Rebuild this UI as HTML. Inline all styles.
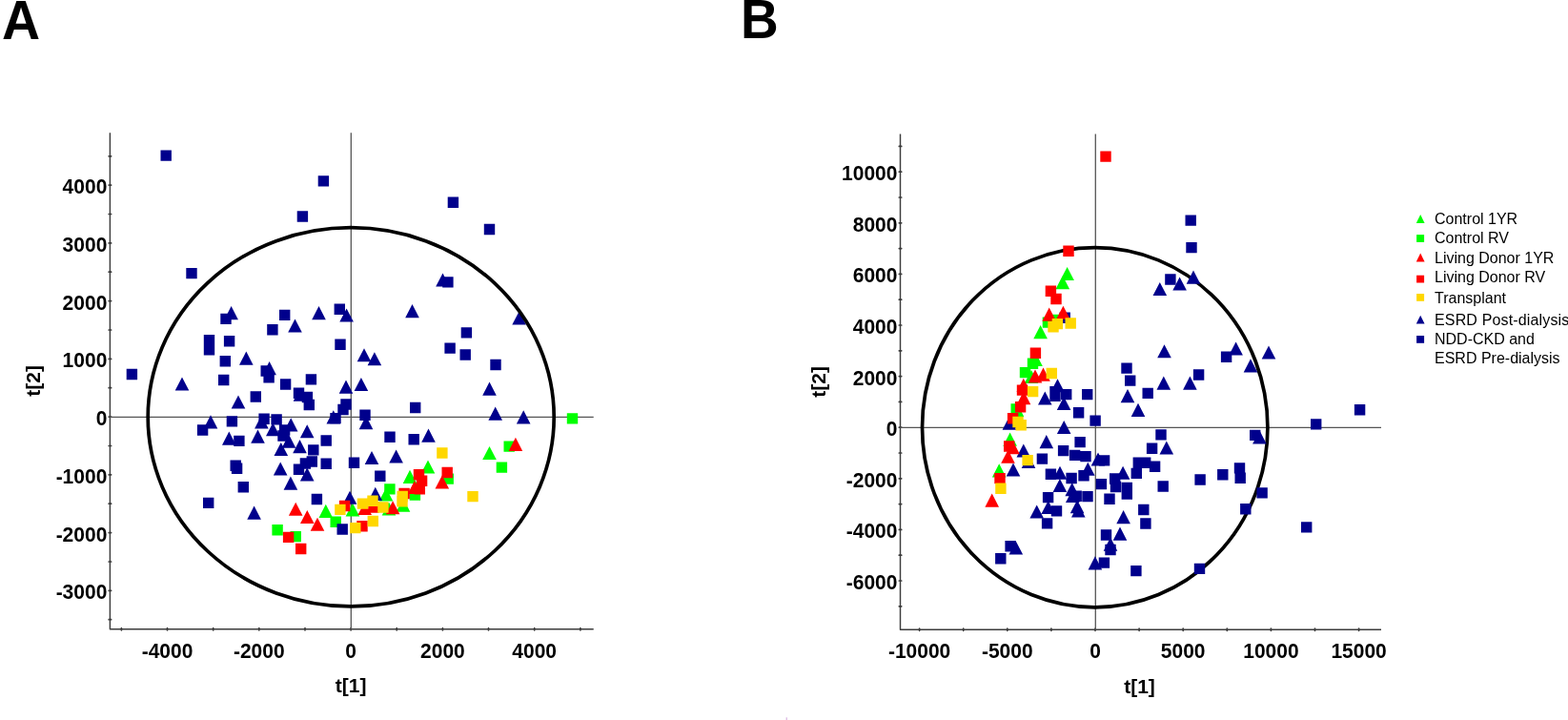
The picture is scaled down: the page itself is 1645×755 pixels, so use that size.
<!DOCTYPE html>
<html><head><meta charset="utf-8"><title>PCA score plots</title>
<style>
html,body{margin:0;padding:0;background:#fff;}
body{width:1645px;height:755px;overflow:hidden;}
svg{display:block;}
.pl{font-family:"Liberation Sans",Arial,sans-serif;font-weight:bold;font-size:55px;fill:#000;}
.tl{font-family:"Liberation Sans",Arial,sans-serif;font-weight:bold;font-size:21px;fill:#000;}
.al{font-family:"Liberation Sans",Arial,sans-serif;font-weight:bold;font-size:21px;fill:#000;}
.lg{font-family:"Liberation Sans",Arial,sans-serif;font-size:16px;fill:#000;}
</style></head><body>
<svg width="1645" height="755" viewBox="0 0 1645 755">
<rect width="1645" height="755" fill="#fff"/>
<text transform="translate(2.1 40.9) scale(1.01 1.045)" class="pl">A</text>
<text transform="translate(777 39.9) scale(1 1.045)" class="pl">B</text>
<path d="M115.4 139.3V659.7H622.7" fill="none" stroke="#3c3c3c" stroke-width="1.45" stroke-linejoin="round"/>
<path d="M114.2 649.7H116.6M114.2 619.3H116.6M114.2 589H116.6M114.2 558.6H116.6M114.2 528.2H116.6M114.2 497.8H116.6M114.2 467.5H116.6M114.2 437.1H116.6M114.2 406.7H116.6M114.2 376.4H116.6M114.2 346H116.6M114.2 315.6H116.6M114.2 285.2H116.6M114.2 254.9H116.6M114.2 224.5H116.6M114.2 194.1H116.6M114.2 163.8H116.6M127.4 658.6V660.8M175.5 658.6V660.8M223.7 658.6V660.8M271.8 658.6V660.8M320 658.6V660.8M368.1 658.6V660.8M416.2 658.6V660.8M464.4 658.6V660.8M512.5 658.6V660.8M560.7 658.6V660.8M608.9 658.6V660.8" fill="none" stroke="#3c3c3c" stroke-width="1.7" stroke-linecap="round"/>
<path d="M115.4 437.4H622.7M368.3 139.3V659.7" fill="none" stroke="#555" stroke-width="1.3"/>
<path fill="#00ff00" d="M334.5 542.9L341.8 528.8L349.1 542.9zM362.6 541.5L369.9 527.4L377.2 541.5zM441.7 496.5L449 482.4L456.3 496.5zM422.7 506.9L430 492.8L437.3 506.9zM506.2 482L513.5 467.9L520.8 482zM400.7 540.6L408 526.5L415.3 540.6zM415.7 536.7L423 522.6L430.3 536.7zM397.7 525.6L405 511.5L412.3 525.6z"/>
<path fill="#00ff00" d="M285.4 550.1h11.4v11.4h-11.4zM304.5 556.9h11.4v11.4h-11.4zM346.5 541.5h11.4v11.4h-11.4zM403.2 507.2h11.4v11.4h-11.4zM429.7 513.4h11.4v11.4h-11.4zM464.5 496.4h11.4v11.4h-11.4zM594.8 433.2h11.4v11.4h-11.4zM528.5 462.4h11.4v11.4h-11.4zM520.7 484.4h11.4v11.4h-11.4z"/>
<path fill="#00008c" d="M235.3 335.2L242.6 321.1L249.9 335.2zM302.2 348.5L309.5 334.4L316.8 348.5zM251 382.7L258.3 368.6L265.6 382.7zM275.3 393.2L282.6 379.1L289.9 393.2zM183.7 409.5L191 395.4L198.3 409.5zM242.7 428.6L250 414.5L257.3 428.6zM457.2 300.5L464.5 286.4L471.8 300.5zM327.2 335.2L334.5 321.1L341.8 335.2zM356.3 337.6L363.6 323.5L370.9 337.6zM425.2 333.2L432.5 319.1L439.8 333.2zM374.7 379.3L382 365.2L389.3 379.3zM385.6 383.3L392.9 369.2L400.2 383.3zM355.7 412.7L363 398.6L370.3 412.7zM371.6 410.1L378.9 396L386.2 410.1zM307.7 420.8L315 406.7L322.3 420.8zM537.3 340.6L544.6 326.5L551.9 340.6zM506.2 414.7L513.5 400.6L520.8 414.7zM512.4 440.7L519.7 426.6L527 440.7zM541.9 444.4L549.2 430.3L556.5 444.4zM213.7 449.4L221 435.3L228.3 449.4zM233 466.7L240.3 452.6L247.6 466.7zM263.2 464.7L270.5 450.6L277.8 464.7zM267.1 449.4L274.4 435.3L281.7 449.4zM279 457.3L286.3 443.2L293.6 457.3zM297.9 452.4L305.2 438.3L312.5 452.4zM295.7 469.7L303 455.6L310.3 469.7zM287.5 478L294.8 463.9L302.1 478zM307.2 475.2L314.5 461.1L321.8 475.2zM286.9 498.5L294.2 484.4L301.5 498.5zM297.6 513.7L304.9 499.6L312.2 513.7zM259.3 544.7L266.6 530.6L273.9 544.7zM342.5 444.4L349.8 430.3L357.1 444.4zM376.7 450.2L384 436.1L391.3 450.2zM314.9 459.3L322.2 445.2L329.5 459.3zM442.2 463.7L449.5 449.6L456.8 463.7zM382.7 487.1L390 473L397.3 487.1zM408.3 485.5L415.6 471.4L422.9 485.5zM314.9 504.4L322.2 490.3L329.5 504.4zM359.7 528.8L367 514.7L374.3 528.8zM386.5 524.9L393.8 510.8L401.1 524.9z"/>
<path fill="#00008c" d="M168.5 157.4h11.4v11.4h-11.4zM333.7 184.2h11.4v11.4h-11.4zM469.7 206.5h11.4v11.4h-11.4zM311.7 221.3h11.4v11.4h-11.4zM507.8 234.8h11.4v11.4h-11.4zM195.3 280.9h11.4v11.4h-11.4zM231.3 328.7h11.4v11.4h-11.4zM293 324.7h11.4v11.4h-11.4zM280.2 340h11.4v11.4h-11.4zM213.8 351.1h11.4v11.4h-11.4zM213.8 361h11.4v11.4h-11.4zM234.9 352h11.4v11.4h-11.4zM230.6 373h11.4v11.4h-11.4zM273.5 383.3h11.4v11.4h-11.4zM276.4 390.2h11.4v11.4h-11.4zM229 392.8h11.4v11.4h-11.4zM293.9 397.3h11.4v11.4h-11.4zM307.8 406.6h11.4v11.4h-11.4zM316.7 410.8h11.4v11.4h-11.4zM318.6 418.8h11.4v11.4h-11.4zM262.6 410.3h11.4v11.4h-11.4zM132.7 386.8h11.4v11.4h-11.4zM350.6 318.5h11.4v11.4h-11.4zM464.2 290.2h11.4v11.4h-11.4zM483.7 343.2h11.4v11.4h-11.4zM466.4 359.4h11.4v11.4h-11.4zM482.5 366.3h11.4v11.4h-11.4zM351.3 355.5h11.4v11.4h-11.4zM320.7 392.2h11.4v11.4h-11.4zM357.3 418.3h11.4v11.4h-11.4zM354.3 423.8h11.4v11.4h-11.4zM430 421.8h11.4v11.4h-11.4zM377.3 429.5h11.4v11.4h-11.4zM514.3 376.8h11.4v11.4h-11.4zM206.9 445.3h11.4v11.4h-11.4zM237.7 436.2h11.4v11.4h-11.4zM245.2 456.7h11.4v11.4h-11.4zM271.4 433.5h11.4v11.4h-11.4zM284.4 434.2h11.4v11.4h-11.4zM292.9 445.3h11.4v11.4h-11.4zM291.3 451.3h11.4v11.4h-11.4zM241.5 482.6h11.4v11.4h-11.4zM242.9 485.5h11.4v11.4h-11.4zM307.8 486.5h11.4v11.4h-11.4zM249.6 505h11.4v11.4h-11.4zM213 521.7h11.4v11.4h-11.4zM336.5 456.3h11.4v11.4h-11.4zM403.3 452.6h11.4v11.4h-11.4zM428.5 455.1h11.4v11.4h-11.4zM323.1 466.2h11.4v11.4h-11.4zM321.6 478.3h11.4v11.4h-11.4zM314.7 480.3h11.4v11.4h-11.4zM336.5 480.6h11.4v11.4h-11.4zM365.8 479.6h11.4v11.4h-11.4zM393.1 493.6h11.4v11.4h-11.4zM326.7 517.8h11.4v11.4h-11.4zM353.5 549.3h11.4v11.4h-11.4zM346.3 432.9h11.4v11.4h-11.4z"/>
<path fill="#ff0000" d="M302.9 540.8L310.2 526.7L317.5 540.8zM315 549L322.3 534.9L329.6 549zM325.7 556.8L333 542.7L340.3 556.8zM375.4 540L382.7 525.9L390 540zM404.8 539.3L412.1 525.2L419.4 539.3zM456.5 512.6L463.8 498.5L471.1 512.6zM533.6 472.9L540.9 458.8L548.2 472.9zM427.7 518L435 503.9L442.3 518z"/>
<path fill="#ff0000" d="M296.9 557.7h11.4v11.4h-11.4zM310 569.8h11.4v11.4h-11.4zM355.9 524.8h11.4v11.4h-11.4zM374.3 546.1h11.4v11.4h-11.4zM386.3 526.3h11.4v11.4h-11.4zM463.5 489.8h11.4v11.4h-11.4zM433.8 492h11.4v11.4h-11.4zM436.9 498.6h11.4v11.4h-11.4zM434.6 507.2h11.4v11.4h-11.4zM418.4 511.8h11.4v11.4h-11.4z"/>
<path fill="#ffd700" d="M458.2 469.3h11.4v11.4h-11.4zM490.3 514.9h11.4v11.4h-11.4zM351.2 528.7h11.4v11.4h-11.4zM374.8 522.4h11.4v11.4h-11.4zM385.3 519.6h11.4v11.4h-11.4zM396.2 526.3h11.4v11.4h-11.4zM385.6 540.8h11.4v11.4h-11.4zM367.1 547.9h11.4v11.4h-11.4zM416.5 514.8h11.4v11.4h-11.4zM416.3 520.1h11.4v11.4h-11.4z"/>
<ellipse cx="368.2" cy="437.3" rx="213" ry="198.6" fill="none" stroke="#000" stroke-width="3.7"/>
<text transform="translate(112.3 628.3) scale(1 1.04)" text-anchor="end" class="tl">-3000</text>
<text transform="translate(112.3 567.6) scale(1 1.04)" text-anchor="end" class="tl">-2000</text>
<text transform="translate(112.3 506.8) scale(1 1.04)" text-anchor="end" class="tl">-1000</text>
<text transform="translate(112.3 446.1) scale(1 1.04)" text-anchor="end" class="tl">0</text>
<text transform="translate(112.3 385.4) scale(1 1.04)" text-anchor="end" class="tl">1000</text>
<text transform="translate(112.3 324.6) scale(1 1.04)" text-anchor="end" class="tl">2000</text>
<text transform="translate(112.3 263.9) scale(1 1.04)" text-anchor="end" class="tl">3000</text>
<text transform="translate(112.3 203.1) scale(1 1.04)" text-anchor="end" class="tl">4000</text>
<text transform="translate(175.5 689.8) scale(1 1.04)" text-anchor="middle" class="tl">-4000</text>
<text transform="translate(271.8 689.8) scale(1 1.04)" text-anchor="middle" class="tl">-2000</text>
<text transform="translate(368.1 689.8) scale(1 1.04)" text-anchor="middle" class="tl">0</text>
<text transform="translate(464.4 689.8) scale(1 1.04)" text-anchor="middle" class="tl">2000</text>
<text transform="translate(560.7 689.8) scale(1 1.04)" text-anchor="middle" class="tl">4000</text>
<text x="368.1" y="726.2" text-anchor="middle" class="al">t[1]</text>
<text transform="translate(42.2 399.3) rotate(-90)" text-anchor="middle" class="al">t[2]</text>
<path d="M944.5 140.5V660.2H1449" fill="none" stroke="#3c3c3c" stroke-width="1.45" stroke-linejoin="round"/>
<path d="M943.3 635.8H945.7M943.3 609H945.7M943.3 582.2H945.7M943.3 555.4H945.7M943.3 528.6H945.7M943.3 501.8H945.7M943.3 475H945.7M943.3 448.2H945.7M943.3 421.4H945.7M943.3 394.6H945.7M943.3 367.8H945.7M943.3 341H945.7M943.3 314.2H945.7M943.3 287.4H945.7M943.3 260.6H945.7M943.3 233.8H945.7M943.3 207H945.7M943.3 180.2H945.7M943.3 153.4H945.7M964.6 659.1V661.3M1010.7 659.1V661.3M1056.8 659.1V661.3M1102.9 659.1V661.3M1149 659.1V661.3M1195.1 659.1V661.3M1241.2 659.1V661.3M1287.3 659.1V661.3M1333.4 659.1V661.3M1379.5 659.1V661.3M1425.6 659.1V661.3" fill="none" stroke="#3c3c3c" stroke-width="1.7" stroke-linecap="round"/>
<path d="M944.5 448.4H1449M1149.3 140.5V660.2" fill="none" stroke="#555" stroke-width="1.3"/>
<ellipse cx="1148.7" cy="448.2" rx="181.2" ry="188.6" fill="none" stroke="#000" stroke-width="3.7"/>
<path fill="#00ff00" d="M1112.3 294L1119.6 279.9L1126.9 294zM1107.5 303.2L1114.8 289.1L1122.1 303.2zM1084.3 355.2L1091.6 341.1L1098.9 355.2zM1079.2 384L1086.5 369.9L1093.8 384zM1074.7 402L1082 387.9L1089.3 402zM1052.3 467.7L1059.6 453.6L1066.9 467.7zM1040.9 500.4L1048.2 486.3L1055.5 500.4zM1059.7 437L1067 422.9L1074.3 437z"/>
<path fill="#00ff00" d="M1093.7 332.4h11.4v11.4h-11.4zM1101.8 329.7h11.4v11.4h-11.4zM1077.8 375.6h11.4v11.4h-11.4zM1069.8 384.9h11.4v11.4h-11.4zM1060.5 423.3h11.4v11.4h-11.4z"/>
<path fill="#00008c" d="M1209.5 310.1L1216.8 296L1224.1 310.1zM1230.3 304.5L1237.6 290.4L1244.9 304.5zM1244.7 297.7L1252 283.6L1259.3 297.7zM1289.3 372.5L1296.6 358.4L1303.9 372.5zM1304.7 390.4L1312 376.3L1319.3 390.4zM1323.7 376.5L1331 362.4L1338.3 376.5zM1214.2 375.3L1221.5 361.2L1228.8 375.3zM1213.5 408.7L1220.8 394.6L1228.1 408.7zM1241.1 408.7L1248.4 394.6L1255.7 408.7zM1175.7 422.2L1183 408.1L1190.3 422.2zM1186.7 436.9L1194 422.8L1201.3 436.9zM1102.2 411.3L1109.5 397.2L1116.8 411.3zM1089 424.6L1096.3 410.5L1103.6 424.6zM1108.8 430L1116.1 415.9L1123.4 430zM1108.9 455.1L1116.2 441L1123.5 455.1zM1090.5 470.2L1097.8 456.1L1105.1 470.2zM1066.5 479.5L1073.8 465.4L1081.1 479.5zM1071.7 490.9L1079 476.8L1086.3 490.9zM1055.7 499.6L1063 485.5L1070.3 499.6zM1051.6 450.8L1058.9 436.7L1066.2 450.8zM1104.7 502.8L1112 488.7L1119.3 502.8zM1134 498.8L1141.3 484.7L1148.6 498.8zM1144.7 488.5L1152 474.4L1159.3 488.5zM1104.6 516L1111.9 501.9L1119.2 516zM1117.4 520.2L1124.7 506.1L1132 520.2zM1118 527.1L1125.3 513L1132.6 527.1zM1092.4 539L1099.7 524.9L1107 539zM1080.4 543.6L1087.7 529.5L1095 543.6zM1124 542.5L1131.3 528.4L1138.6 542.5zM1122.8 538.3L1130.1 524.2L1137.4 538.3zM1170.8 502.8L1178.1 488.7L1185.4 502.8zM1171.3 549.2L1178.6 535.1L1185.9 549.2zM1167.7 566.7L1175 552.6L1182.3 566.7zM1216.5 476.5L1223.8 462.4L1231.1 476.5zM1314.1 465.4L1321.4 451.3L1328.7 465.4zM1058.5 581.5L1065.8 567.4L1073.1 581.5zM1141.6 597.4L1148.9 583.3L1156.2 597.4zM1157.7 577.7L1165 563.6L1172.3 577.7z"/>
<path fill="#00008c" d="M1243.5 225.4h11.4v11.4h-11.4zM1244.3 253.9h11.4v11.4h-11.4zM1222.2 287.3h11.4v11.4h-11.4zM1280.9 368.5h11.4v11.4h-11.4zM1251.9 387.3h11.4v11.4h-11.4zM1176.3 380.4h11.4v11.4h-11.4zM1180 393.4h11.4v11.4h-11.4zM1198.5 406.7h11.4v11.4h-11.4zM1135 407.9h11.4v11.4h-11.4zM1125.9 427h11.4v11.4h-11.4zM1143.4 435.4h11.4v11.4h-11.4zM1113 407.9h11.4v11.4h-11.4zM1101.3 405h11.4v11.4h-11.4zM1101.3 409.7h11.4v11.4h-11.4zM1420.9 424.1h11.4v11.4h-11.4zM1375 439.2h11.4v11.4h-11.4zM1365 547.2h11.4v11.4h-11.4zM1127.4 457.9h11.4v11.4h-11.4zM1109.9 466.9h11.4v11.4h-11.4zM1121.9 471.7h11.4v11.4h-11.4zM1133.3 472.9h11.4v11.4h-11.4zM1152.9 477.2h11.4v11.4h-11.4zM1087.7 475.4h11.4v11.4h-11.4zM1096.7 491.5h11.4v11.4h-11.4zM1118.4 495.8h11.4v11.4h-11.4zM1131.3 493.1h11.4v11.4h-11.4zM1149.7 501.9h11.4v11.4h-11.4zM1123.5 514.6h11.4v11.4h-11.4zM1135.3 514.9h11.4v11.4h-11.4zM1093.9 515.9h11.4v11.4h-11.4zM1102.8 530.2h11.4v11.4h-11.4zM1092.9 543.2h11.4v11.4h-11.4zM1164 496.3h11.4v11.4h-11.4zM1164.8 504.8h11.4v11.4h-11.4zM1176.6 505.8h11.4v11.4h-11.4zM1176.6 512.3h11.4v11.4h-11.4zM1158.3 517.6h11.4v11.4h-11.4zM1188.6 479.6h11.4v11.4h-11.4zM1196 479.6h11.4v11.4h-11.4zM1186.6 490.7h11.4v11.4h-11.4zM1194.1 528.8h11.4v11.4h-11.4zM1196.2 543.3h11.4v11.4h-11.4zM1154.8 555.3h11.4v11.4h-11.4zM1212.3 450.2h11.4v11.4h-11.4zM1202.9 464.5h11.4v11.4h-11.4zM1205.9 483.6h11.4v11.4h-11.4zM1214.5 504.3h11.4v11.4h-11.4zM1253.4 497.3h11.4v11.4h-11.4zM1277.1 492h11.4v11.4h-11.4zM1294.8 485.2h11.4v11.4h-11.4zM1295.5 495.5h11.4v11.4h-11.4zM1318.4 511.2h11.4v11.4h-11.4zM1301.1 528.1h11.4v11.4h-11.4zM1311 450.7h11.4v11.4h-11.4zM1044.1 580.1h11.4v11.4h-11.4zM1054.4 567.1h11.4v11.4h-11.4zM1152.7 584.4h11.4v11.4h-11.4zM1159.3 570.8h11.4v11.4h-11.4zM1186.2 592.9h11.4v11.4h-11.4zM1252.8 590.7h11.4v11.4h-11.4zM1111.5 327.6h11.4v11.4h-11.4z"/>
<path fill="#ff0000" d="M1093.4 336.7L1100.7 322.6L1108 336.7zM1108.1 334.8L1115.4 320.7L1122.7 334.8zM1078.7 401.5L1086 387.4L1093.3 401.5zM1087.2 399.7L1094.5 385.6L1101.8 399.7zM1066.5 410.8L1073.8 396.7L1081.1 410.8zM1066.7 424.2L1074 410.1L1081.3 424.2zM1055.2 476.2L1062.5 462.1L1069.8 476.2zM1050.2 485.8L1057.5 471.7L1064.8 485.8zM1033.4 531.7L1040.7 517.6L1048 531.7z"/>
<path fill="#ff0000" d="M1154.3 158.4h11.4v11.4h-11.4zM1115.3 257.5h11.4v11.4h-11.4zM1096.7 299.6h11.4v11.4h-11.4zM1102.3 307.8h11.4v11.4h-11.4zM1080.7 364.5h11.4v11.4h-11.4zM1066.8 403.4h11.4v11.4h-11.4zM1064.9 421h11.4v11.4h-11.4zM1056.9 433.1h11.4v11.4h-11.4zM1053 462.3h11.4v11.4h-11.4zM1043.3 495.9h11.4v11.4h-11.4z"/>
<path fill="#ffd700" d="M1099.3 337h11.4v11.4h-11.4zM1103.7 333.9h11.4v11.4h-11.4zM1117.5 333.3h11.4v11.4h-11.4zM1097.6 385.8h11.4v11.4h-11.4zM1077.9 404.9h11.4v11.4h-11.4zM1062.3 436.8h11.4v11.4h-11.4zM1065.5 440h11.4v11.4h-11.4zM1072.4 476.9h11.4v11.4h-11.4zM1044.2 506.5h11.4v11.4h-11.4z"/>
<text transform="translate(941.4 618) scale(1 1.04)" text-anchor="end" class="tl">-6000</text>
<text transform="translate(941.4 564.4) scale(1 1.04)" text-anchor="end" class="tl">-4000</text>
<text transform="translate(941.4 510.8) scale(1 1.04)" text-anchor="end" class="tl">-2000</text>
<text transform="translate(941.4 457.2) scale(1 1.04)" text-anchor="end" class="tl">0</text>
<text transform="translate(941.4 403.6) scale(1 1.04)" text-anchor="end" class="tl">2000</text>
<text transform="translate(941.4 350) scale(1 1.04)" text-anchor="end" class="tl">4000</text>
<text transform="translate(941.4 296.4) scale(1 1.04)" text-anchor="end" class="tl">6000</text>
<text transform="translate(941.4 242.8) scale(1 1.04)" text-anchor="end" class="tl">8000</text>
<text transform="translate(941.4 189.2) scale(1 1.04)" text-anchor="end" class="tl">10000</text>
<text transform="translate(964.6 690.4) scale(1 1.04)" text-anchor="middle" class="tl">-10000</text>
<text transform="translate(1056.8 690.4) scale(1 1.04)" text-anchor="middle" class="tl">-5000</text>
<text transform="translate(1149 690.4) scale(1 1.04)" text-anchor="middle" class="tl">0</text>
<text transform="translate(1241.2 690.4) scale(1 1.04)" text-anchor="middle" class="tl">5000</text>
<text transform="translate(1333.4 690.4) scale(1 1.04)" text-anchor="middle" class="tl">10000</text>
<text transform="translate(1425.6 690.4) scale(1 1.04)" text-anchor="middle" class="tl">15000</text>
<text x="1195.5" y="726.7" text-anchor="middle" class="al">t[1]</text>
<text transform="translate(866.4 400.3) rotate(-90)" text-anchor="middle" class="al">t[2]</text>
<path fill="#00ff00" d="M1485.8 233.9L1490.2 225.1L1494.6 233.9z"/>
<text x="1505" y="235.3" class="lg">Control 1YR</text>
<rect x="1486.1" y="246.1" width="8" height="7.8" fill="#00ff00"/>
<text x="1505" y="255.3" class="lg">Control RV</text>
<path fill="#ff0000" d="M1485.8 274.4L1490.2 265.6L1494.6 274.4z"/>
<text x="1505" y="275.9" class="lg">Living Donor 1YR</text>
<rect x="1486.1" y="288.7" width="8" height="7.8" fill="#ff0000"/>
<text x="1505" y="296.3" class="lg">Living Donor RV</text>
<rect x="1486.1" y="308" width="8" height="7.8" fill="#ffd700"/>
<text x="1505" y="317.6" class="lg">Transplant</text>
<path fill="#00008c" d="M1485.8 339.6L1490.2 330.8L1494.6 339.6z"/>
<text x="1505" y="340.8" class="lg" textLength="141.3" lengthAdjust="spacing">ESRD Post-dialysis</text>
<rect x="1486.1" y="352" width="8" height="7.8" fill="#00008c"/>
<text x="1505" y="361.3" class="lg">NDD-CKD and</text>
<text x="1505" y="381.2" class="lg">ESRD Pre-dialysis</text>
<rect x="824.6" y="752.3" width="1.3" height="2.7" fill="#dcb8e4"/>
</svg>
</body></html>
